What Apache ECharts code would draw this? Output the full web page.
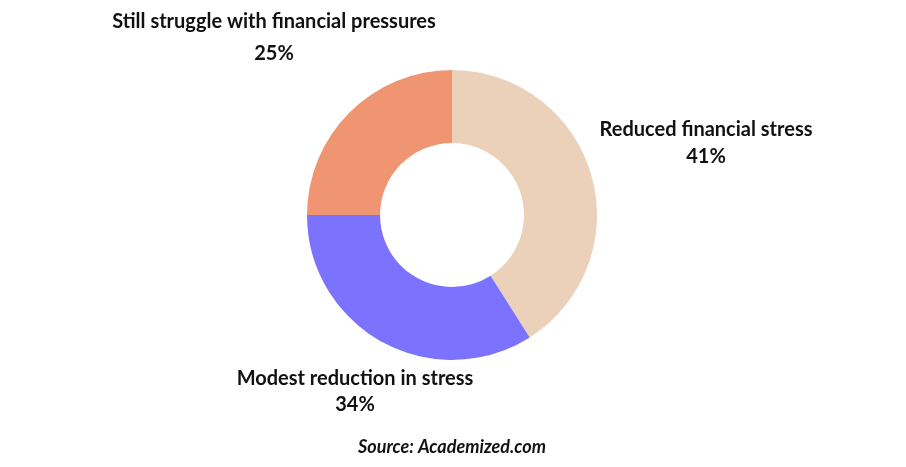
<!DOCTYPE html>
<html>
<head>
<meta charset="utf-8">
<script src="https://cdn.jsdelivr.net/npm/echarts@6/dist/echarts.min.js"></script>
<style>
  html, body { margin: 0; padding: 0; background: #fff; }
  #chart { width: 906px; height: 467px; }
</style>
</head>
<body>
<div id="chart"></div>
<script>
// categories and shares (%), clockwise from 12 o'clock
const categories = ['Reduced financial stress', 'Modest reduction in stress', 'Still struggle with financial pressures']
const shares = [41, 34, 25]
const colors = ['#EBD0BA', '#7B73FF', '#F09572']
// where each label sits (centre of the text block) and its line spacing
const labelPos = [[706, 143], [355, 392], [274, 38]]
const labelGap = [27, 26, 32]

const chart = echarts.init(document.getElementById('chart'))
const font = 'Lato, "Noto Sans", sans-serif'

const textStyle = lh => ({ fontFamily: font, fontSize: 20, fontWeight: 'bold', color: '#111', lineHeight: lh, align: 'center' })

chart.setOption({
  animation: false,
  series: [{
    type: 'pie',
    center: [452, 215],
    radius: [72, 145],
    startAngle: 90,
    clockwise: true,
    data: categories.map((name, i) => ({
      name,
      value: shares[i],
      itemStyle: { color: colors[i] },
      label: { rich: { n: textStyle(labelGap[i]), v: textStyle(labelGap[i]) } }
    })),
    label: {
      show: true,
      position: 'outside',
      overflow: 'none',
      formatter: p => '{n|' + p.name + '}\n{v|' + p.value + '%}'
    },
    labelLine: { show: false },
    labelLayout: p => ({
      x: labelPos[p.dataIndex][0],
      y: labelPos[p.dataIndex][1],
      align: 'center',
      verticalAlign: 'middle'
    }),
    emphasis: { disabled: true }
  }],
  graphic: [{
    type: 'text',
    left: 358,
    top: 438,
    style: {
      text: 'Source: Academized.com',
      fontFamily: font,
      fontSize: 18,
      fontWeight: 'bold',
      fontStyle: 'italic',
      fill: '#111'
    }
  }]
})
</script>
</body>
</html>
